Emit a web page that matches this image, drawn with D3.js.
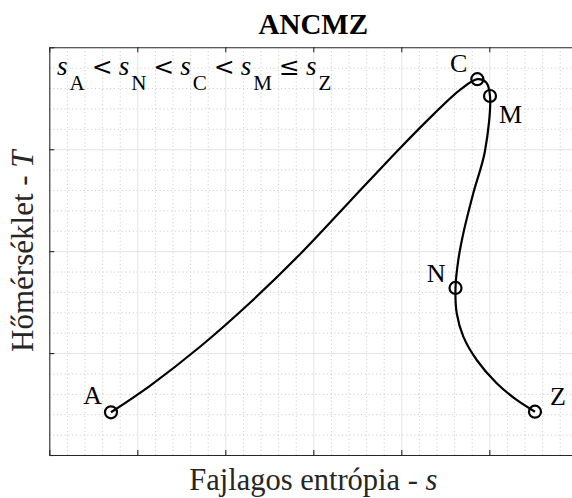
<!DOCTYPE html>
<html>
<head>
<meta charset="utf-8">
<script src="https://cdn.jsdelivr.net/npm/d3@7"></script>
<style>
  body { margin: 0; background: #fff; }
  svg { display: block; font-family: "Liberation Serif", "Times New Roman", serif; }
  .grid-major line { stroke: #e3e3e3; stroke-width: 1; }
  .grid-minor line { stroke: #cfcfcf; stroke-width: 1; stroke-dasharray: 1.2 2.6; }
  .grid-major path, .grid-minor path { display: none; }
  .frame line, .frame path { stroke: #262626; stroke-width: 1.1; }
</style>
</head>
<body>
<svg id="chart" width="572" height="498"></svg>
<script>
// curve of the process in the T-s plane (s, T in axis units)
var curveS = [0.701, 1.144, 1.713, 2.281, 2.849, 3.417, 3.985, 4.360, 4.667, 4.864, 4.965, 5.008,
              4.951, 4.818, 4.705, 4.648, 4.616, 4.630, 4.705, 4.857, 5.084, 5.311, 5.519];
var curveT = [0.419, 0.679, 1.062, 1.494, 1.970, 2.490, 3.010, 3.337, 3.582, 3.687, 3.655, 3.522,
              2.983, 2.568, 2.176, 1.914, 1.639, 1.391, 1.161, 0.932, 0.704, 0.540, 0.425];

// marked states
var pointNames = ["A", "C", "M", "N", "Z"];
var pointS = [0.701, 4.864, 5.008, 4.616, 5.519];
var pointT = [0.419, 3.687, 3.522, 1.639, 0.425];

var xTicks = [0, 1, 2, 3, 4, 5, 6];
var yTicks = [0, 1, 2, 3, 4];

// label placement next to each marker (anchor, dx, dy)
var labelPos = {
  A: ["end", -9, -8],
  C: ["end", -10, -7],
  M: ["start", 9, 27],
  N: ["end", -10, -6],
  Z: ["start", 15, -7]
};

var svg = d3.select("#chart");
var pL = 49.3, pT = 47.3, pR = 577.3, pB = 455;

var x = d3.scaleLinear().domain([0, 6]).range([pL, pR]);
var y = d3.scaleLinear().domain([0, 4]).range([pB, pT]);

var minorX = d3.range(0, 6.001, 0.2).filter(function(v) { return Math.abs(v - Math.round(v)) > 1e-6; });
var minorY = d3.range(0, 4.001, 0.2).filter(function(v) { return Math.abs(v - Math.round(v)) > 1e-6; });

// minor grid
svg.append("g").attr("class", "grid-minor")
  .attr("transform", "translate(0," + pB + ")")
  .call(d3.axisBottom(x).tickValues(minorX).tickSize(-(pB - pT)).tickFormat(""));
svg.append("g").attr("class", "grid-minor")
  .attr("transform", "translate(" + pL + ",0)")
  .call(d3.axisLeft(y).tickValues(minorY).tickSize(-(pR - pL)).tickFormat(""));

// major grid
svg.append("g").attr("class", "grid-major")
  .attr("transform", "translate(0," + pB + ")")
  .call(d3.axisBottom(x).tickValues(xTicks.slice(1, -1)).tickSize(-(pB - pT)).tickFormat(""));
svg.append("g").attr("class", "grid-major")
  .attr("transform", "translate(" + pL + ",0)")
  .call(d3.axisLeft(y).tickValues(yTicks.slice(1, -1)).tickSize(-(pR - pL)).tickFormat(""));

// box with inward ticks
svg.append("g").attr("class", "frame")
  .attr("transform", "translate(0," + pB + ")")
  .call(d3.axisBottom(x).tickValues(xTicks).tickSizeInner(-5).tickSizeOuter(0).tickFormat(""));
svg.append("g").attr("class", "frame")
  .attr("transform", "translate(0," + pT + ")")
  .call(d3.axisTop(x).tickValues(xTicks).tickSizeInner(-5).tickSizeOuter(0).tickFormat(""));
svg.append("g").attr("class", "frame")
  .attr("transform", "translate(" + pL + ",0)")
  .call(d3.axisLeft(y).tickValues(yTicks).tickSizeInner(-5).tickSizeOuter(0).tickFormat(""));
svg.append("g").attr("class", "frame")
  .attr("transform", "translate(" + pR + ",0)")
  .call(d3.axisRight(y).tickValues(yTicks).tickSizeInner(-5).tickSizeOuter(0).tickFormat(""));

// process curve
var pts = curveS.map(function(s, i) { return [s, curveT[i]]; });
var line = d3.line()
  .x(function(d) { return x(d[0]); })
  .y(function(d) { return y(d[1]); })
  .curve(d3.curveCatmullRom.alpha(0.5));

svg.append("path")
  .datum(pts)
  .attr("d", line)
  .attr("fill", "none")
  .attr("stroke", "#000")
  .attr("stroke-width", 2.2);

// markers
var states = pointNames.map(function(n, i) { return { name: n, s: pointS[i], t: pointT[i] }; });

svg.selectAll("circle.state")
  .data(states)
  .enter().append("circle")
  .attr("class", "state")
  .attr("cx", function(d) { return x(d.s); })
  .attr("cy", function(d) { return y(d.t); })
  .attr("r", 6)
  .attr("fill", "none")
  .attr("stroke", "#000")
  .attr("stroke-width", 2.2);

svg.selectAll("text.state")
  .data(states)
  .enter().append("text")
  .attr("class", "state")
  .attr("x", function(d) { return x(d.s) + labelPos[d.name][1]; })
  .attr("y", function(d) { return y(d.t) + labelPos[d.name][2]; })
  .attr("text-anchor", function(d) { return labelPos[d.name][0]; })
  .attr("font-size", 26)
  .attr("fill", "#000")
  .text(function(d) { return d.name; });

// s_A < s_N < s_C < s_M <= s_Z
var order = ["A", "N", "C", "M", "Z"];
var rel = ["<", "<", "<", "\u2264"];
var ineq = svg.append("text")
  .attr("x", 57)
  .attr("y", 75)
  .attr("font-size", 27)
  .attr("fill", "#000");
order.forEach(function(n, i) {
  ineq.append("tspan").attr("font-style", "italic").attr("dx", i ? 6 : 0).text("s");
  ineq.append("tspan").attr("font-size", 21).attr("dy", 15).attr("dx", 2).text(n);
  if (i < rel.length) {
    ineq.append("tspan").attr("font-family", "DejaVu Serif").attr("font-size", 25)
      .attr("dy", -15).attr("dx", 7).text(rel[i]);
  }
});

// title and axis labels
svg.append("text")
  .attr("x", (pL + pR) / 2)
  .attr("y", 34)
  .attr("text-anchor", "middle")
  .attr("font-size", 29)
  .attr("font-weight", "bold")
  .text("ANCMZ");

var xl = svg.append("text")
  .attr("x", (pL + pR) / 2)
  .attr("y", 490)
  .attr("text-anchor", "middle")
  .attr("font-size", 30.5)
  .attr("fill", "#262626");
xl.append("tspan").text("Fajlagos entrópia - ");
xl.append("tspan").attr("font-style", "italic").text("s");

var yl = svg.append("text")
  .attr("transform", "translate(33," + ((pT + pB) / 2) + ") rotate(-90)")
  .attr("text-anchor", "middle")
  .attr("font-size", 31)
  .attr("fill", "#262626");
yl.append("tspan").text("Hőmérséklet - ");
yl.append("tspan").attr("font-style", "italic").text("T");
</script>
</body>
</html>
